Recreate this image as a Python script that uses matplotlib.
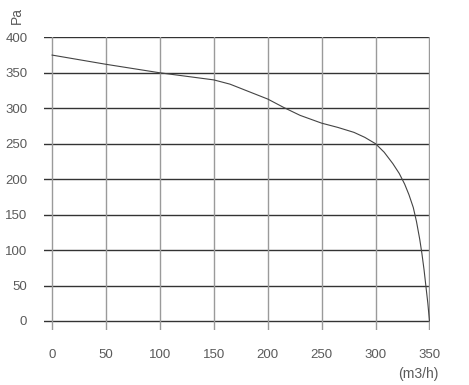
import matplotlib.pyplot as plt

flow = [0, 50, 100, 125, 150, 165, 180, 200, 215, 230, 250, 265, 280, 290, 300, 308,
        316, 322, 327, 331, 335, 338, 341, 343, 345, 347, 348.5, 350]
pressure = [375, 362, 350, 345, 340, 334, 325, 313, 301, 290, 279, 273, 266, 259, 250, 238,
            222, 208, 193, 178, 160, 140, 115, 95, 72, 45, 25, 0]

x_ticks = [0, 50, 100, 150, 200, 250, 300, 350]
y_ticks = [0, 50, 100, 150, 200, 250, 300, 350, 400]

plt.rcParams['font.family'] = ['Liberation Sans', 'DejaVu Sans']
txt_color = '#5a5a5a'

fig = plt.figure(figsize=(4.69, 3.85), dpi=100)
ax = fig.add_axes([44 / 469, 1 - 330 / 385, (430 - 44) / 469, (330 - 37) / 385])
ax.set_xlim(-7.5, 350.5)
ax.set_ylim(-12.7, 400.5)

# grid: horizontal dark, vertical light
for y in y_ticks:
    ax.plot([-7.5, 350], [y, y], color='#333333', lw=1.0, zorder=1)
for x in x_ticks:
    ax.plot([x, x], [-12.7, 400], color='#9a9a9a', lw=1.0, zorder=1)

ax.plot(flow, pressure, color='#444444', lw=0.8, zorder=2)

for s in ax.spines.values():
    s.set_visible(False)
ax.set_xticks(x_ticks)
ax.set_yticks(y_ticks)
ax.tick_params(length=0, colors=txt_color, labelsize=9.5)
ax.tick_params(axis='x', pad=14)
ax.tick_params(axis='y', pad=12)

fig.text(17 / 469, 1 - 16 / 385, 'Pa', rotation=90, ha='center', va='center',
         color=txt_color, fontsize=10)
fig.text(418 / 469, 1 - 374 / 385, '(m3/h)', ha='center', va='center',
         color=txt_color, fontsize=10)

fig.savefig('out.png', dpi=100, facecolor='white')
